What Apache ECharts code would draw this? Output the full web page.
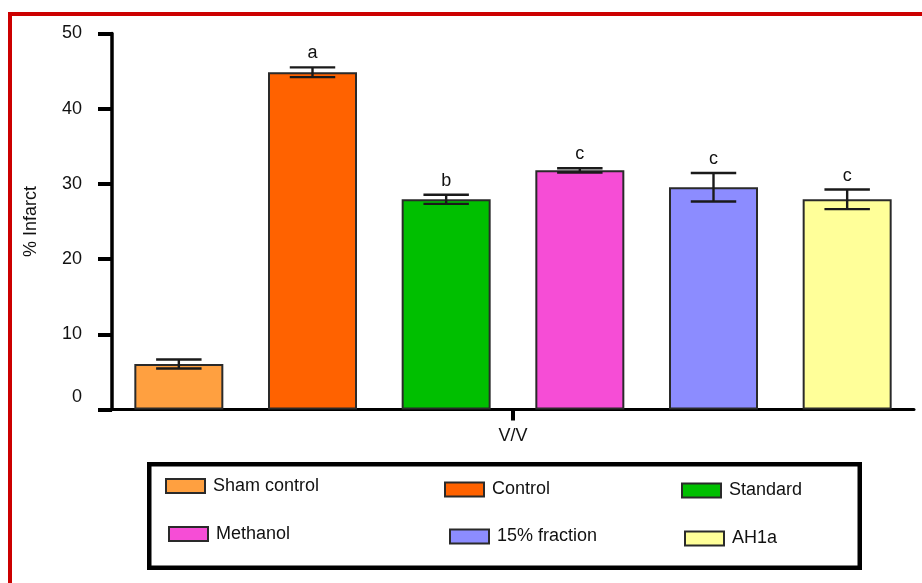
<!DOCTYPE html>
<html>
<head>
<meta charset="utf-8">
<script src="https://cdn.jsdelivr.net/npm/echarts@6/dist/echarts.min.js"></script>
<style>
html,body{margin:0;padding:0;background:#fff;}
#chart{width:922px;height:583px;}
</style>
</head>
<body>
<div id="chart"></div>
<script>
var categories = ['Sham control', 'Control', 'Standard', 'Methanol', '15% fraction', 'AH1a'];
var values = [6.05, 44.85, 27.95, 31.8, 29.55, 27.95];
var errors = [0.6, 0.65, 0.6, 0.28, 1.9, 1.3];
var letters = ['', 'a', 'b', 'c', 'c', 'c'];
var colors = ['#FFA040', '#FF6200', '#00BF00', '#F64DD6', '#8C8CFF', '#FFFF99'];
var groupLabel = ['V/V'];
var yTicks = { min: 0, max: 50, interval: 10 };

var FONT = '"Liberation Sans", Arial, sans-serif';

var barSeries = categories.map(function (name, i) {
  return {
    type: 'bar',
    name: name,
    xAxisIndex: 0,
    barWidth: 89,
    barGap: '-100%',
    itemStyle: { color: colors[i], borderColor: '#2a2a2a', borderWidth: 2 },
    data: categories.map(function (c, j) { return j === i ? values[i] : '-'; }),
    z: 2
  };
});

var errData = categories.map(function (c, i) { return [i, values[i], errors[i]]; });

var errSeries = {
  type: 'custom',
  xAxisIndex: 0,
  z: 5,
  encode: { x: 0, y: 1 },
  data: errData,
  renderItem: function (params, api) {
    var i = api.value(0), v = api.value(1), e = api.value(2);
    var letter = letters[i];
    var top = api.coord([i, v + e]);
    var bot = api.coord([i, v - e]);
    var half = api.size([1, 0])[0] * 0.17;
    var st = { stroke: '#1a1a1a', lineWidth: 2.4 };
    var children = [
      { type: 'line', shape: { x1: top[0], y1: top[1], x2: bot[0], y2: bot[1] }, style: st },
      { type: 'line', shape: { x1: top[0] - half, y1: top[1], x2: top[0] + half, y2: top[1] }, style: st },
      { type: 'line', shape: { x1: bot[0] - half, y1: bot[1], x2: bot[0] + half, y2: bot[1] }, style: st }
    ];
    if (letter) {
      children.push({
        type: 'text',
        style: {
          text: letter, x: top[0], y: top[1] - 5,
          align: 'center', verticalAlign: 'bottom',
          fill: '#111', font: '18px ' + FONT
        }
      });
    }
    return { type: 'group', children: children };
  }
};

var legendPos = [
  [165, 486], [444, 489.5], [681, 490.5],
  [168, 534], [449, 536.5], [684, 538.5]
];
var legends = categories.map(function (name, i) {
  return {
    data: [name],
    left: legendPos[i][0],
    top: legendPos[i][1] - 10,
    padding: 0,
    itemWidth: 39,
    itemHeight: 14,
    icon: 'rect',
    selectedMode: false,
    textStyle: { fontSize: 18, color: '#111', fontFamily: FONT, padding: [0, 0, 0, 3], lineHeight: 20 }
  };
});

var option = {
  backgroundColor: '#ffffff',
  animation: false,
  legend: legends,
  grid: { left: 112, right: 8, top: 33.5, bottom: 173.5 },
  xAxis: [
    {
      type: 'category',
      data: categories,
      position: 'bottom',
      axisLine: { show: true, lineStyle: { color: '#000', width: 3 } },
      axisTick: { show: false },
      axisLabel: { show: false },
      splitLine: { show: false }
    },
    {
      type: 'category',
      data: groupLabel,
      position: 'bottom',
      axisLine: { show: false },
      axisTick: { show: true, alignWithLabel: true, length: 11, lineStyle: { color: '#000', width: 4 } },
      axisLabel: { show: true, margin: 18, fontSize: 18, color: '#111', fontFamily: FONT },
      splitLine: { show: false }
    }
  ],
  yAxis: {
    type: 'value',
    min: yTicks.min,
    max: yTicks.max,
    interval: yTicks.interval,
    name: '% Infarct',
    nameLocation: 'middle',
    nameRotate: 90,
    nameGap: 72,
    nameTextStyle: { fontSize: 18, color: '#111', fontFamily: FONT },
    axisLine: { show: true, lineStyle: { color: '#000', width: 3.5 } },
    axisTick: { show: true, length: 14, lineStyle: { color: '#000', width: 4 } },
    axisLabel: {
      margin: 30, fontSize: 18, color: '#111', fontFamily: FONT,
      formatter: function (v) { return v === 0 ? '{z|0}' : String(v); },
      rich: { z: { fontSize: 18, fontFamily: FONT, color: '#111', padding: [0, 0, 24, 0] } }
    },
    splitLine: { show: false }
  },
  graphic: [
    { type: 'rect', z: 10, shape: { x: 149.25, y: 464.25, width: 710.5, height: 103.5 },
      style: { fill: 'none', stroke: '#000', lineWidth: 4.5 } },
    { type: 'line', z: 10, shape: { x1: 8, y1: 14, x2: 922, y2: 14 },
      style: { stroke: '#CC0000', lineWidth: 4 } },
    { type: 'line', z: 10, shape: { x1: 10, y1: 12, x2: 10, y2: 583 },
      style: { stroke: '#CC0000', lineWidth: 4 } }
  ],
  series: barSeries.concat([errSeries])
};

var chart = echarts.init(document.getElementById('chart'), null, { renderer: 'canvas' });
chart.setOption(option);
</script>
</body>
</html>
